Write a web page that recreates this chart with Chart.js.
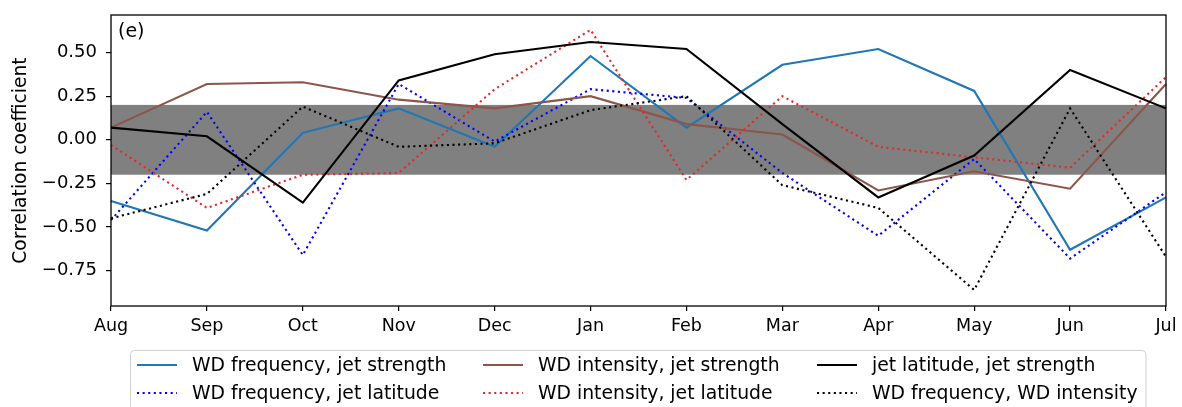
<!DOCTYPE html>
<html>
<head>
<meta charset="utf-8">
<script src="https://cdn.jsdelivr.net/npm/chart.js@4.4.1/dist/chart.umd.min.js"></script>
<style>
  html, body { margin: 0; padding: 0; background: #ffffff; }
  #wrap { width: 1182px; height: 407px; position: relative; overflow: hidden; }
</style>
</head>
<body>
<div id="wrap"><canvas id="chart" width="1182" height="407"></canvas></div>
<script>
// Months of the year, starting in August
const months = ['Aug', 'Sep', 'Oct', 'Nov', 'Dec', 'Jan', 'Feb', 'Mar', 'Apr', 'May', 'Jun', 'Jul'];

// Monthly correlation coefficients
const wdFreqJetStrength = [-0.35, -0.52, 0.04, 0.18, -0.04, 0.48, 0.07, 0.43, 0.52, 0.28, -0.63, -0.33];
const wdFreqJetLatitude = [-0.46, 0.16, -0.66, 0.32, -0.01, 0.29, 0.24, -0.19, -0.55, -0.11, -0.68, -0.30];
const wdIntJetStrength = [0.07, 0.32, 0.33, 0.23, 0.18, 0.25, 0.09, 0.03, -0.29, -0.18, -0.28, 0.32];
const wdIntJetLatitude = [-0.03, -0.39, -0.20, -0.19, 0.29, 0.63, -0.23, 0.25, -0.04, -0.10, -0.16, 0.36];
const jetLatJetStrength = [0.07, 0.02, -0.36, 0.34, 0.49, 0.56, 0.52, 0.09, -0.33, -0.09, 0.40, 0.18];
const wdFreqWdIntensity = [-0.45, -0.31, 0.19, -0.04, -0.02, 0.17, 0.25, -0.26, -0.39, -0.86, 0.18, -0.67];

// Series names, in legend order (column by column)
const seriesLabels = [
  'WD frequency, jet strength',
  'WD frequency, jet latitude',
  'WD intensity, jet strength',
  'WD intensity, jet latitude',
  'jet latitude, jet strength',
  'WD frequency, WD intensity'
];

// Y axis tick values and the insignificance band limits
const yTickValues = [-0.75, -0.5, -0.25, 0, 0.25, 0.5];
const bandLow = -0.2;
const bandHigh = 0.2;
const panelTag = '(e)';

const FONT = "'DejaVu Sans', sans-serif";
const DOT = [2.1, 3.5];

function line(label, data, color, dashed, idx) {
  return {
    label: label,
    data: data,
    borderColor: color,
    backgroundColor: color,
    borderWidth: 2.1,
    borderDash: dashed ? DOT : [],
    borderCapStyle: 'butt',
    pointRadius: 0,
    pointHoverRadius: 0,
    tension: 0,
    fill: false,
    order: 10 - idx
  };
}

const datasets = [
  line(seriesLabels[0], wdFreqJetStrength, '#1f77b4', false, 0),
  line(seriesLabels[1], wdFreqJetLatitude, '#0000ff', true, 1),
  line(seriesLabels[2], wdIntJetStrength, '#8c564b', false, 2),
  line(seriesLabels[3], wdIntJetLatitude, '#e3292b', true, 3),
  line(seriesLabels[4], jetLatJetStrength, '#000000', false, 4),
  line(seriesLabels[5], wdFreqWdIntensity, '#000000', true, 5)
];

// Grey band behind the lines, axes frame and panel tag on top
const panelDecor = {
  id: 'panelDecor',
  beforeDatasetsDraw(chart) {
    const { ctx, chartArea: a, scales } = chart;
    const y1 = scales.y.getPixelForValue(bandHigh);
    const y2 = scales.y.getPixelForValue(bandLow);
    ctx.save();
    ctx.fillStyle = '#808080';
    ctx.fillRect(a.left, y1, a.right - a.left, y2 - y1);
    ctx.restore();
  },
  afterDatasetsDraw(chart) {
    const { ctx, chartArea: a } = chart;
    ctx.save();
    ctx.strokeStyle = '#000000';
    ctx.lineWidth = 1.3;
    ctx.strokeRect(a.left, a.top, a.right - a.left, a.bottom - a.top);
    ctx.fillStyle = '#000000';
    ctx.font = '19px ' + FONT;
    ctx.textAlign = 'left';
    ctx.textBaseline = 'middle';
    ctx.fillText(panelTag, a.left + 7, a.top + 17);
    ctx.restore();
  }
};

// Three-column legend below the axes
const gridLegend = {
  id: 'gridLegend',
  afterDraw(chart) {
    const { ctx } = chart;
    const ds = chart.data.datasets;
    const box = { left: 130.5, top: 350.5, right: 1146, bottom: 430 };
    const cols = [
      { hx: 137, tx: 192 },
      { hx: 483, tx: 538 },
      { hx: 817, tx: 872 }
    ];
    const rows = [365, 393];
    ctx.save();
    ctx.beginPath();
    const r = 4;
    ctx.moveTo(box.left + r, box.top);
    ctx.lineTo(box.right - r, box.top);
    ctx.quadraticCurveTo(box.right, box.top, box.right, box.top + r);
    ctx.lineTo(box.right, box.bottom);
    ctx.lineTo(box.left, box.bottom);
    ctx.lineTo(box.left, box.top + r);
    ctx.quadraticCurveTo(box.left, box.top, box.left + r, box.top);
    ctx.closePath();
    ctx.fillStyle = 'rgba(255,255,255,0.8)';
    ctx.fill();
    ctx.strokeStyle = '#d0d0d0';
    ctx.lineWidth = 1;
    ctx.stroke();

    ctx.font = '18.8px ' + FONT;
    ctx.textBaseline = 'middle';
    ctx.textAlign = 'left';
    ds.forEach((d, i) => {
      const c = cols[Math.floor(i / 2)];
      const y = rows[i % 2];
      ctx.beginPath();
      ctx.strokeStyle = d.borderColor;
      ctx.lineWidth = d.borderWidth;
      ctx.lineCap = 'butt';
      ctx.setLineDash(d.borderDash || []);
      ctx.moveTo(c.hx, y);
      ctx.lineTo(c.hx + 40, y);
      ctx.stroke();
      ctx.setLineDash([]);
      ctx.fillStyle = '#000000';
      ctx.fillText(d.label, c.tx, y + 1);
    });
    ctx.restore();
  }
};

new Chart(document.getElementById('chart'), {
  type: 'line',
  data: { labels: months, datasets: datasets },
  plugins: [panelDecor, gridLegend],
  options: {
    responsive: false,
    animation: false,
    devicePixelRatio: 1,
    layout: { padding: { left: 0, top: 15, right: 16, bottom: 0 } },
    plugins: {
      legend: { display: false },
      tooltip: { enabled: false },
      title: { display: false }
    },
    scales: {
      x: {
        type: 'category',
        offset: false,
        border: { display: false },
        grid: { drawOnChartArea: false, drawTicks: true, tickLength: 5, color: '#000000', lineWidth: 1.2 },
        ticks: {
          color: '#000000',
          font: { family: FONT, size: 17.5 },
          padding: 5,
          maxRotation: 0,
          autoSkip: false
        },
        afterFit(scale) {
          scale.height = 101;
          scale.paddingLeft = 0;
          scale.paddingRight = 0;
        }
      },
      y: {
        min: -0.952,
        max: 0.715,
        border: { display: false },
        grid: { drawOnChartArea: false, drawTicks: true, tickLength: 5, color: '#000000', lineWidth: 1.2 },
        afterBuildTicks(scale) {
          scale.ticks = yTickValues.map(v => ({ value: v }));
        },
        ticks: {
          color: '#000000',
          font: { family: FONT, size: 18 },
          padding: 9,
          callback(v) {
            const s = Math.abs(v).toFixed(2);
            return v < 0 ? '\u2212' + s : s;
          }
        },
        title: {
          display: true,
          text: 'Correlation coefficient',
          color: '#000000',
          font: { family: FONT, size: 18.7 },
          padding: { top: 10, bottom: 0 }
        },
        afterFit(scale) {
          scale.width = 111;
          scale.paddingTop = 0;
          scale.paddingBottom = 0;
        }
      }
    }
  }
});
</script>
</body>
</html>
